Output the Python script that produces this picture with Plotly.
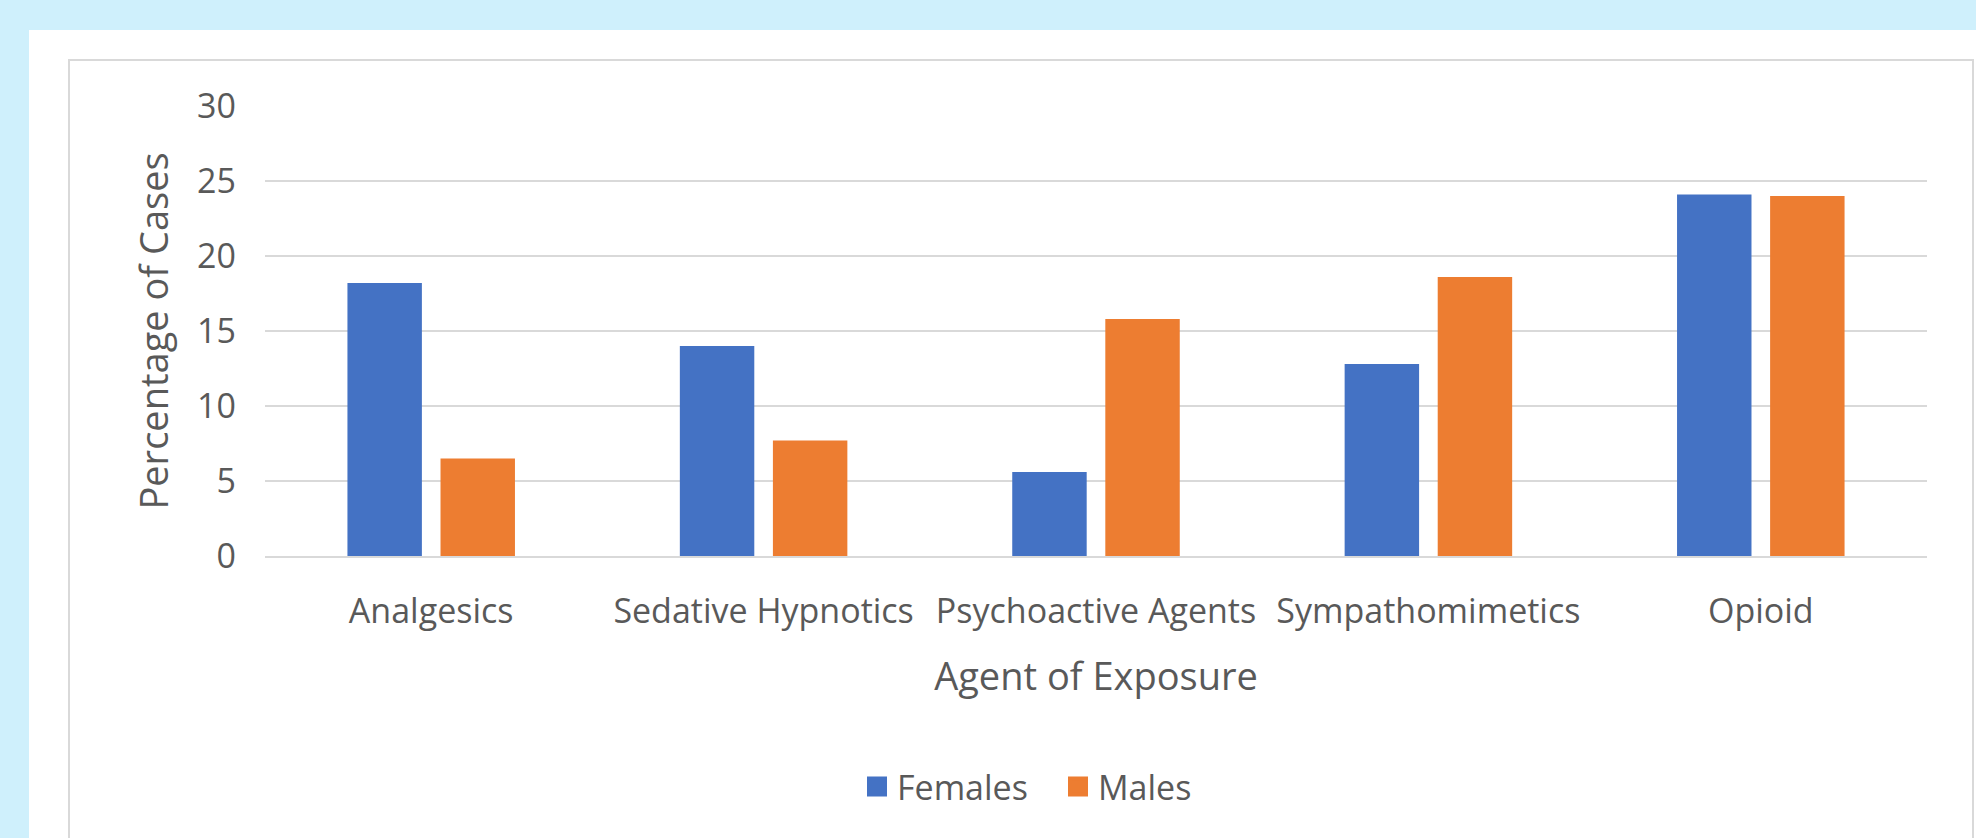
import plotly.graph_objects as go

# data
agents = ["Analgesics", "Sedative Hypnotics", "Psychoactive Agents", "Sympathomimetics", "Opioid"]
females = [18.2, 14.0, 5.6, 12.8, 24.1]
males = [6.5, 7.7, 15.8, 18.6, 24.0]
y_ticks = [0, 5, 10, 15, 20, 25, 30]

W, H = 1976, 838
ML, MR, MT, MB = 265, 49, 106, 282
PW, PH = W - ML - MR, H - MT - MB


# pixel -> paper coords (for the frame shapes / legend)
def px(x):
    return (x - ML) / PW


def py(y):
    return (H - MB - y) / PH


txt = "#595959"
font_name = "Open Sans"
blue, orange = "#4472C4", "#ED7D31"

fig = go.Figure()
fig.add_trace(go.Bar(x=agents, y=females, name="Females", marker_color=blue,
                     marker_line_width=0, showlegend=False))
fig.add_trace(go.Bar(x=agents, y=males, name="Males", marker_color=orange,
                     marker_line_width=0, showlegend=False))

# legend entries: square markers so the key boxes come out bigger than the bar default
for name, col in [("Females", blue), ("Males", orange)]:
    fig.add_trace(go.Scatter(x=[None], y=[None], mode="markers", name=name,
                             marker=dict(symbol="square", size=16, color=col,
                                         line=dict(color=col, width=4))))

shapes = [
    # white card over the light blue page
    dict(type="rect", xref="paper", yref="paper", x0=px(29), x1=px(W + 20), y0=py(30), y1=py(H + 20),
         fillcolor="white", line_width=0, layer="below"),
    # chart border
    dict(type="rect", xref="paper", yref="paper", x0=px(69), x1=px(1973), y0=py(60), y1=py(H + 20),
         fillcolor="rgba(0,0,0,0)", line=dict(color="#D9D9D9", width=2), layer="below"),
]

fig.update_layout(
    width=W, height=H,
    margin=dict(l=ML, r=MR, t=MT, b=MB, autoexpand=False),
    paper_bgcolor="#CFF0FC",
    plot_bgcolor="white",
    barmode="group",
    bargap=0.44,
    bargroupgap=0.2,
    font=dict(family=font_name, color=txt, size=30),
    shapes=shapes,
    showlegend=True,
    legend=dict(orientation="h", x=px(1058), xanchor="center", y=py(787), yanchor="middle",
                font=dict(size=34, color=txt), bgcolor="rgba(0,0,0,0)", itemwidth=30,
                tracegroupgap=0, entrywidth=156),
    xaxis=dict(
        title=dict(text="Agent of Exposure", font=dict(size=38, color=txt), standoff=32),
        tickfont=dict(size=34, color=txt),
        showgrid=False,
        showline=True, linecolor="#D9D9D9", linewidth=2,
        ticks="", ticklabelstandoff=24,
    ),
    yaxis=dict(
        title=dict(text="Percentage of Cases", font=dict(size=38, color=txt), standoff=16),
        tickfont=dict(size=34, color=txt),
        range=[0, 30],
        tickvals=y_ticks,
        showgrid=True, gridcolor="#D9D9D9", gridwidth=2,
        zeroline=False, showline=False,
        ticks="", ticklabelstandoff=28,
    ),
)

# drop the browser's default 8px body margin so the figure sits at the window corner
fig.write_html("out.html", config={"displayModeBar": False},
               post_script="document.body.style.margin='0';")
